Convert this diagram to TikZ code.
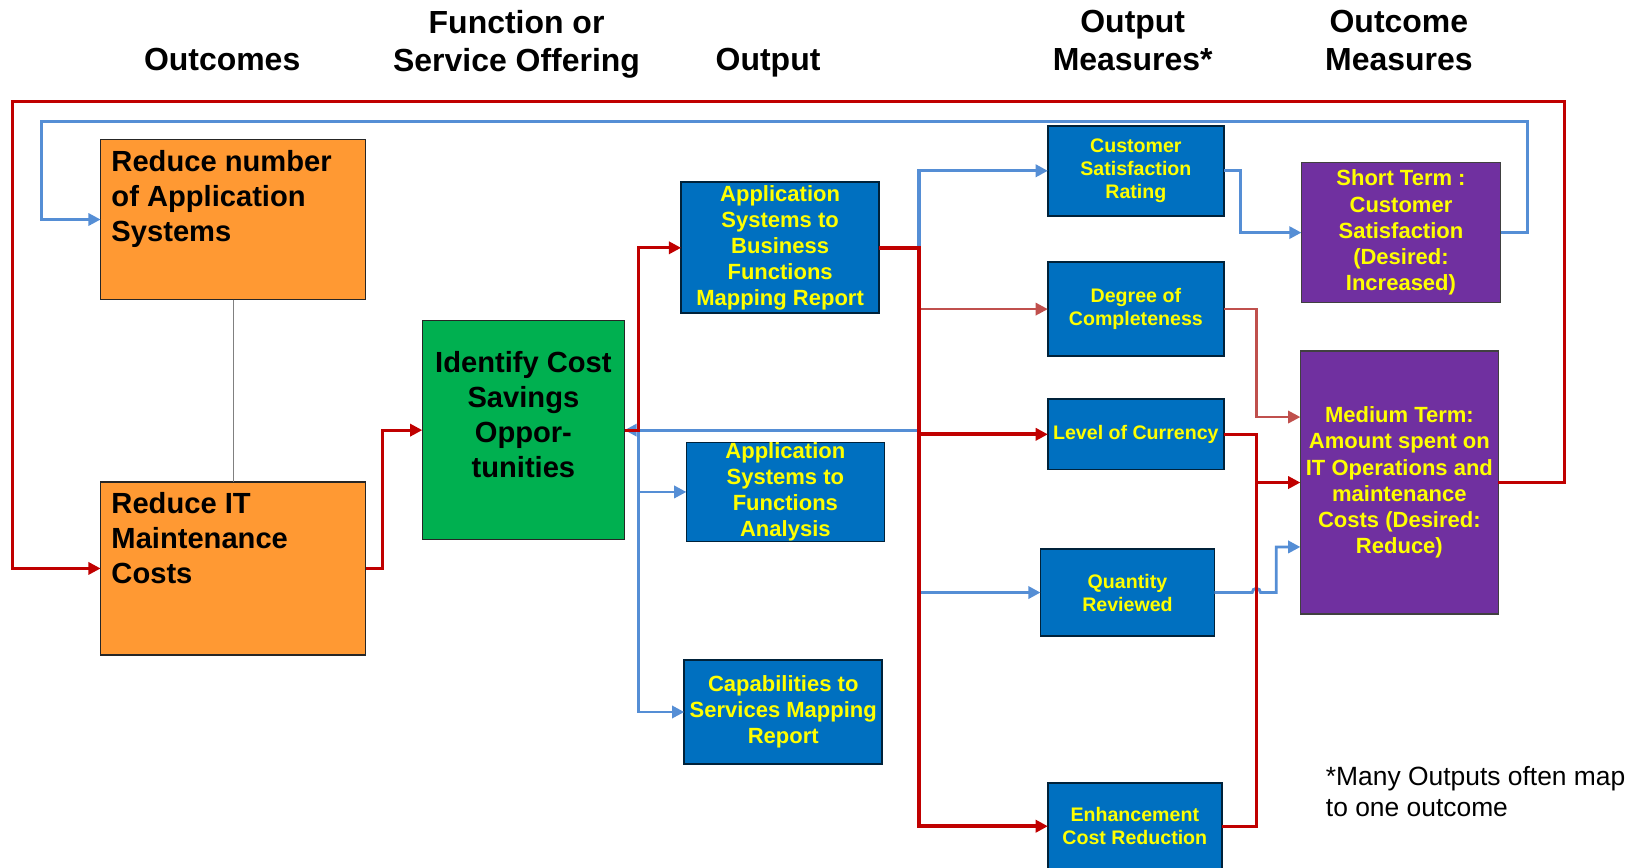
\documentclass[tikz,border=0pt]{standalone}
\usepackage{fontspec}
\setmainfont{Liberation Sans}
\usetikzlibrary{arrows.meta}

\definecolor{outcomeorange}{HTML}{FF9933}
\definecolor{servicegreen}{HTML}{00B050}
\definecolor{outputblue}{HTML}{0070C0}
\definecolor{outcomepurple}{HTML}{7030A0}
\definecolor{flowred}{HTML}{C00000}
\definecolor{flowrose}{HTML}{C0504D}
\definecolor{flowblue}{HTML}{558ED5}
\definecolor{labelyellow}{HTML}{FFFF00}

\tikzset{
  header/.style={font=\bfseries\fontsize{15.25}{18}\selectfont, align=center, inner sep=0pt},
  bigtext/.style={font=\bfseries\fontsize{13.9}{16.75}\selectfont, inner sep=0pt},
  notetext/.style={font=\fontsize{12.6}{15}\selectfont, align=left, inner sep=0pt},
  plainbox/.style={draw=black!85, line width=0.6pt, inner sep=0pt, outer sep=0pt},
  orangebox/.style={plainbox, fill=outcomeorange},
  greenbox/.style={plainbox, fill=servicegreen},
  bluebox/.style={draw=black!70!outputblue, line width=0.8pt, fill=outputblue, inner sep=0pt, outer sep=0pt,
    text=labelyellow, align=center, font=\bfseries\fontsize{10.5}{12.5}\selectfont},
  smallblue/.style={bluebox, font=\bfseries\fontsize{9.35}{11}\selectfont},
  purplebox/.style={draw=black!75, line width=0.6pt, fill=outcomepurple, inner sep=0pt, outer sep=0pt,
    text=labelyellow, align=center, font=\bfseries\fontsize{10.5}{12.5}\selectfont},
  flowtip/.style={-{Triangle[length=5.8pt,width=5.8pt]}},
  redflow/.style={draw=flowred, line width=1.35pt},
  redtrunk/.style={draw=flowred, line width=1.9pt},
  roseflow/.style={draw=flowrose, line width=1.25pt},
  blueflow/.style={draw=flowblue, line width=1.35pt},
  bluetrunk/.style={draw=flowblue, line width=1.6pt},
}

\begin{document}
\begin{tikzpicture}[x=0.5pt, y=-0.5pt]
\useasboundingbox (0,0) rectangle (1568,828);
\clip (0,0) rectangle (1568,828);

% column headers
\node[header, anchor=north] (hOutcomes) at (212,45.7) {Outcomes};
\node[header, anchor=north] (hFunction) at (493,9.7) {Function or\\Service Offering};
\node[header, anchor=north] (hOutput) at (733,45.7) {Output};
\node[header, anchor=north] (hOutMeas) at (1081,9.7) {Output\\Measures*};
\node[header, anchor=north] (hOutcMeas) at (1335,9.7) {Outcome\\Measures};

% outcomes
\node[orangebox, minimum width=126.5pt, minimum height=76.5pt] (box1) at (222.5,209.5) {};
\node[orangebox, minimum width=126.5pt, minimum height=82.5pt] (box2) at (222.5,542.5) {};
\node[bigtext, align=left, anchor=north west] (box1text) at (106,142.7) {Reduce number\\of Application\\Systems};
\node[bigtext, align=left, anchor=north west] (box2text) at (106,469.7) {Reduce IT\\Maintenance\\Costs};

% service offering
\node[greenbox, minimum width=96.5pt, minimum height=104.5pt] (green) at (499.5,410.5) {};
\node[bigtext, align=center, anchor=north] (greentext) at (499.5,334.7) {Identify Cost\\Savings\\Oppor-\\tunities};

% outputs
\node[bluebox, minimum width=94.5pt, minimum height=62.5pt] (asbf) at (744.5,236.5) {Application\\Systems to\\Business\\Functions\\Mapping Report};
\node[bluebox, minimum width=94.5pt, minimum height=46.5pt] (asfa) at (749.5,469.5) {Application\\Systems to\\Functions\\Analysis};
\node[bluebox, minimum width=94.5pt, minimum height=49.5pt] (csmr) at (747.5,679.5) {Capabilities to\\Services Mapping\\Report};

% output measures
\node[smallblue, minimum width=84pt, minimum height=43pt] (csr) at (1084,163) {Customer\\Satisfaction\\Rating};
\node[smallblue, minimum width=84pt, minimum height=45pt] (doc) at (1084,295) {Degree of\\Completeness};
\node[smallblue, minimum width=84pt, minimum height=33.5pt] (loc) at (1084,414.5) {Level of Currency};
\node[smallblue, minimum width=83pt, minimum height=41.5pt] (qr) at (1076,565.5) {Quantity\\Reviewed};
\node[smallblue, minimum width=83pt, minimum height=41.5pt] (ecr) at (1083,788.5) {Enhancement\\Cost Reduction};

% outcome measures
\node[purplebox, minimum width=95pt, minimum height=67pt] (short) at (1337,222) {Short Term :\\Customer\\Satisfaction\\(Desired:\\Increased)};
\node[purplebox, minimum width=94.5pt, minimum height=125.5pt] (medium) at (1335.5,460.5) {Medium Term:\\Amount spent on\\IT Operations and\\maintenance\\Costs (Desired:\\Reduce)};

% footnote
\node[notetext, anchor=north west] (note) at (1265,730.7) {*Many Outputs often map\\to one outcome};

% routing points
\coordinate (fork) at (609,410.5);
\coordinate (bus) at (877,236.5);
\coordinate (join) at (1199,460.5);
\coordinate (medRose) at (1241,398);
\coordinate (medBlue) at (1241,522);
\coordinate (redTopR) at (1493,97);
\coordinate (redTopL) at (12,97);
\coordinate (blueTopR) at (1458,116);
\coordinate (blueTopL) at (40,116);

% link between the two outcomes
\draw[draw=black!50, line width=0.6pt] (box1.south) -- (box2.north);

% blue connectors
\draw[blueflow, flowtip] (short.east) -| (blueTopR) -- (blueTopL) |- (box1.west);
\draw[blueflow, flowtip] (bus |- fork) -- (green.east);
\draw[blueflow, flowtip] (fork) |- (csmr.west);
\draw[blueflow, flowtip] (fork |- asfa.west) -- (asfa.west);
\draw[bluetrunk, flowtip] (bus) |- (csr.west);
\draw[bluetrunk, flowtip] (bus |- qr.west) -- (qr.west);
\draw[blueflow, flowtip] (csr.east) -- ++(16,0) |- (short.west);
\draw[blueflow, flowtip] (qr.east) -- ++(36,0) arc[start angle=180, end angle=360, radius=4] -- ++(15,0) |- (medBlue);

% rose connectors
\draw[roseflow, flowtip] (bus |- doc.west) -- (doc.west);
\draw[roseflow, flowtip] (doc.east) -| (join |- medRose) -- (medRose);

% red connectors
\draw[redflow, flowtip] (medium.east) -| (redTopR) -- (redTopL) |- (box2.west);
\draw[redflow, flowtip] (box2.east) -- ++(16,0) |- (green.west);
\draw[redflow, flowtip] (green.east) -- (fork) |- (asbf.west);
\draw[redtrunk, flowtip] (asbf.east) -- (bus) |- (ecr.west);
\draw[redtrunk, flowtip] (bus |- loc.west) -- (loc.west);
\draw[redflow] (loc.east) -| (join);
\draw[redflow] (ecr.east) -| (join);
\draw[redflow, flowtip] (join) -- (medium.west);

\end{tikzpicture}
\end{document}
